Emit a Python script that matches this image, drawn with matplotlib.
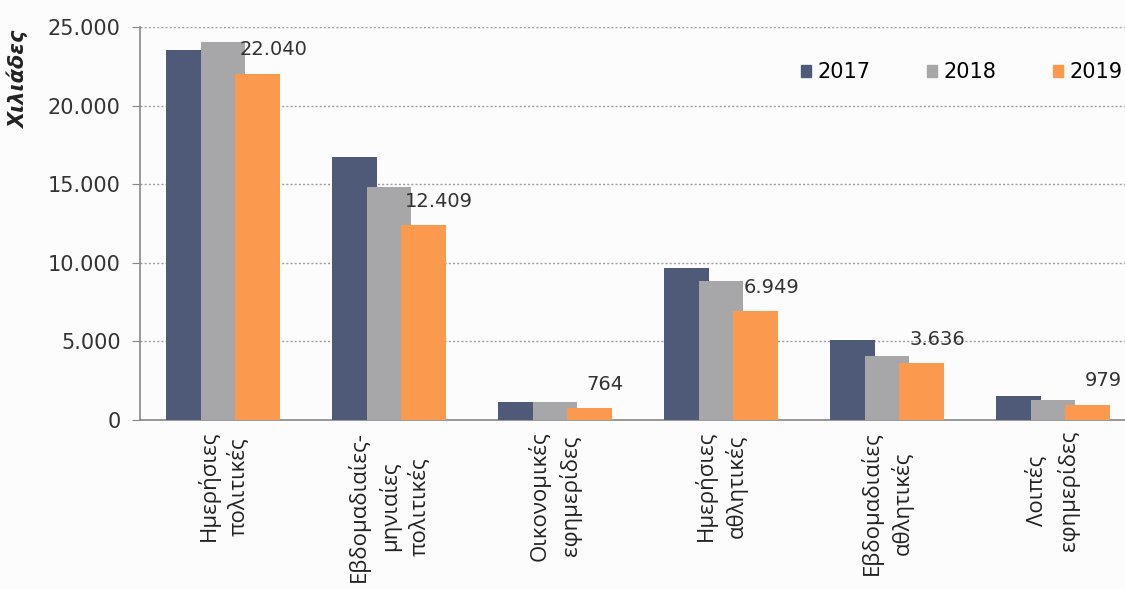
import matplotlib
matplotlib.use("Agg")
import matplotlib.pyplot as plt
import numpy as np
from matplotlib.ticker import FuncFormatter
from matplotlib.patches import Patch

categories = [
    "Ημερήσιες\nπολιτικές",
    "Εβδομαδιαίες-\nμηνιαίες\nπολιτικές",
    "Οικονομικές\nεφημερίδες",
    "Ημερήσιες\nαθλητικές",
    "Εβδομαδιαίες\nαθλητικές",
    "Λοιπές\nεφημερίδες",
]
years = ["2017", "2018", "2019"]
values_2017 = [23550, 16750, 1150, 9680, 5100, 1520]
values_2018 = [24050, 14800, 1150, 8850, 4050, 1280]
values_2019 = [22040, 12409, 764, 6949, 3636, 979]
y_ticks = [0, 5000, 10000, 15000, 20000, 25000]

colors = ["#4e5a77", "#a7a7aa", "#fb994e"]

def fmt(v, pos=None):
    return f"{int(round(v)):,}".replace(",", ".")

fig = plt.figure(figsize=(11.25, 5.89), dpi=100)
fig.patch.set_facecolor("#fcfcfd")
ax = fig.add_axes([140/1125, 1-420/589, (6*166)/1125, (420-27)/589])
ax.set_facecolor("#fcfcfd")

x = np.arange(len(categories))
width = 0.27
step = 0.21
series = [values_2017, values_2018, values_2019]
for i, (vals, c) in enumerate(zip(series, colors)):
    ax.bar(x + (i - 1) * step, vals, width=width, color=c, zorder=3 + i, label=years[i])

for xi, v in zip(x, values_2019):
    ax.annotate(fmt(v), (xi + step, v), xytext=(11, 17), textcoords="offset points",
                ha="center", va="center", fontsize=14, color="#333333", zorder=10)

ax.set_xlim(-0.5, 5.5)
ax.set_ylim(0, 25000)
ax.set_yticks(y_ticks)
ax.yaxis.set_major_formatter(FuncFormatter(fmt))
ax.tick_params(axis="y", labelsize=15, labelcolor="#333333", length=6, color="#888888", pad=8)
ax.set_xticks(x)
labels = ax.set_xticklabels(categories, rotation=90, fontsize=16,
                            family=["Open Sans", "Noto Sans", "DejaVu Sans"],
                            color="#222222", ha="center", va="top", multialignment="center")
for t in labels:
    t.set_linespacing(1.45)
ax.tick_params(axis="x", length=0, pad=8)
ax.grid(axis="y", linestyle=(0, (1.5, 1.5)), color="#a0a0a0", linewidth=1.0, zorder=0)
for s in ["top", "right"]:
    ax.spines[s].set_visible(False)
ax.spines["left"].set_color("#888888")
ax.spines["bottom"].set_color("#888888")
ax.spines["left"].set_linewidth(1.2)
ax.spines["bottom"].set_linewidth(1.2)

handles = [Patch(color=c, label=y) for c, y in zip(colors, years)]
fig.legend(handles=handles, loc="center left", bbox_to_anchor=(801/1125, 1-72/589),
           ncol=3, frameon=False, fontsize=15, handlelength=0.5, handleheight=0.5,
           handletextpad=0.3, columnspacing=2.7, borderpad=0, borderaxespad=0)

fig.text(18/1125, 1-80/589, "Χιλιάδες", rotation=90, ha="center", va="center",
         fontsize=15, fontweight="bold", fontstyle="italic", color="#222222")

fig.savefig("out.png", dpi=100, facecolor=fig.get_facecolor())
